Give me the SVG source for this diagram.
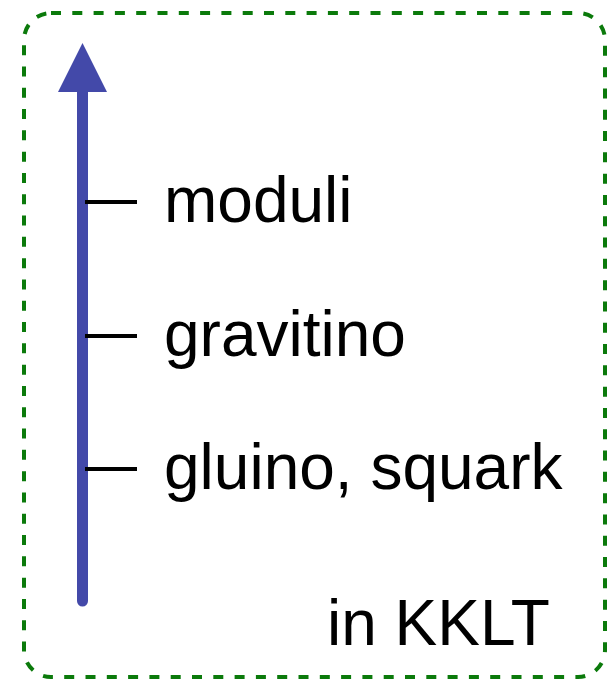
<svg xmlns="http://www.w3.org/2000/svg" width="611" height="679" viewBox="0 0 611 679">
  <style>
    .frame { fill: none; stroke: #0b7a0b; stroke-width: 4; stroke-dasharray: 10 11.3; }
    .axis { stroke: #4349a9; stroke-width: 11; stroke-linecap: round; fill: none; }
    .head { fill: #4349a9; }
    .tick { stroke: #000; stroke-width: 4; }
    .label { font-family: "Liberation Sans", Arial, sans-serif; font-size: 64px; fill: #000; }
  </style>
  <rect class="frame" x="24" y="13" width="581" height="664" rx="27" ry="27"/>
  <g id="connectors">
    <line class="axis" x1="82.5" y1="601" x2="82.5" y2="88"/>
    <polygon class="head" points="82.5,43 58,92 107,92"/>
  </g>
  <g id="moduli">
    <line class="tick" x1="85" y1="202" x2="137" y2="202"/>
    <text class="label" x="164" y="222">moduli</text>
  </g>
  <g id="gravitino">
    <line class="tick" x1="85" y1="336" x2="137" y2="336"/>
    <text class="label" x="164" y="356">gravitino</text>
  </g>
  <g id="gluino-squark">
    <line class="tick" x1="85" y1="469" x2="137" y2="469"/>
    <text class="label" x="164" y="489">gluino, squark</text>
  </g>
  <g id="kklt">
    <text class="label" x="327" y="645">in KKLT</text>
  </g>
</svg>
